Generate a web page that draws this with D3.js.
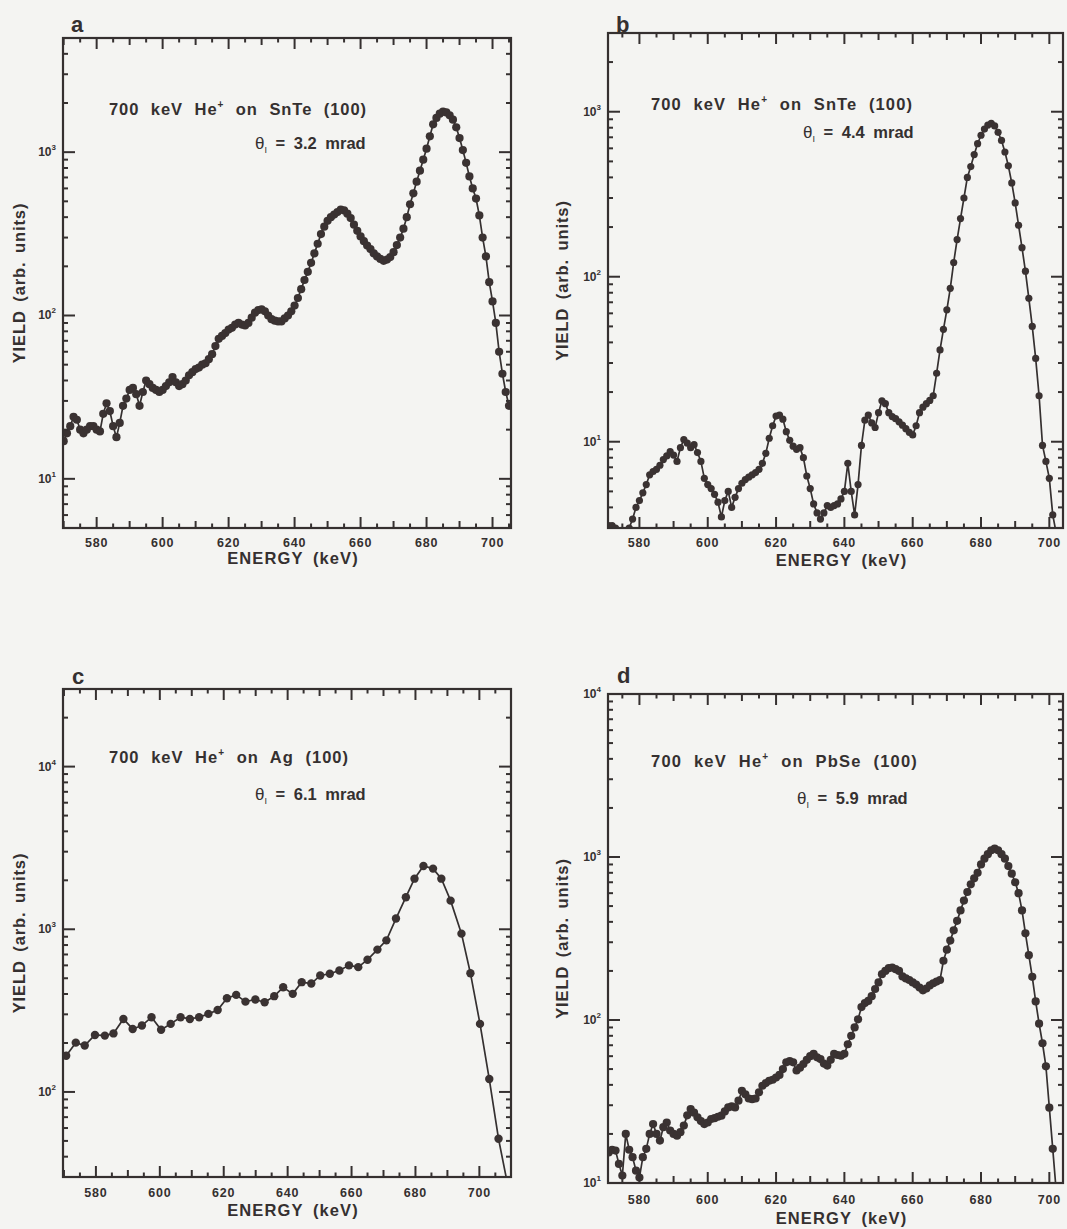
<!DOCTYPE html>
<html><head><meta charset="utf-8">
<script src="https://cdn.jsdelivr.net/npm/d3@7"></script>
<style>
body{margin:0;background:#f4f4f2;}
svg text{font-family:"Liberation Sans",Arial,Helvetica,sans-serif;font-weight:bold;fill:#353030;}
</style></head>
<body><svg id="chart" width="1067" height="1229"></svg>
<script>
// ---------- DATA ----------
const energyA = [570,571,572,573,574,575,576,577,578,579,580,581,582,583,584,585,586,587,588,589,590,591,592,593,594,595,596,597,598,599,600,601,602,603,604,605,606,607,608,609,610,611,612,613,614,615,616,617,618,619,620,621,622,623,624,625,626,627,628,629,630,631,632,633,634,635,636,637,638,639,640,641,642,643,644,645,646,647,648,649,650,651,652,653,654,655,656,657,658,659,660,661,662,663,664,665,666,667,668,669,670,671,672,673,674,675,676,677,678,679,680,681,682,683,684,685,686,687,688,689,690,691,692,693,694,695,696,697,698,699,700,701,702,703,704,705];
const yieldA = [17,19,21,24,23,20,19,20,21,21,20,19.5,25,29,26,21,18,22,28,31,35,36,33,28,34,40,38,36,35,34,35,37,39,42,39,37,38,40,43,45,47,48,50,51,54,58,65,72,75,78,82,84,88,90,88,87,90,97,104,108,109,106,100,95,93,92,92,96,100,106,115,128,145,165,185,210,240,275,315,350,380,400,415,430,445,440,420,395,360,330,305,285,268,255,240,230,222,216,220,228,244,270,300,340,400,480,560,660,770,900,1050,1250,1480,1620,1720,1770,1750,1680,1580,1420,1220,1030,860,710,600,520,410,300,230,160,122,90,60,44,34,28];

const energyB = [571,572,573,574,575,576,577,578,579,580,581,582,583,584,585,586,587,588,589,590,591,592,593,594,595,596,597,598,599,600,601,602,603,604,605,606,607,608,609,610,611,612,613,614,615,616,617,618,619,620,621,622,623,624,625,626,627,628,629,630,631,632,633,634,635,636,637,638,639,640,641,642,643,644,645,646,647,648,649,650,651,652,653,654,655,656,657,658,659,660,661,662,663,664,665,666,667,668,669,670,671,672,673,674,675,676,677,678,679,680,681,682,683,684,685,686,687,688,689,690,691,692,693,694,695,696,697,698,699,700,701,702];
const yieldB = [3.1,3.1,3.0,2.8,2.6,2.7,3.0,3.4,4.0,4.4,4.9,5.5,6.3,6.6,6.8,7.2,7.8,8.2,8.7,8.3,7.6,9.2,10.3,9.8,9.2,9.6,8.6,7.6,6.0,5.5,5.2,4.8,4.3,3.5,4.4,5.0,4.0,4.6,5.2,5.6,5.9,6.1,6.3,6.5,6.8,7.4,8.5,10.5,12.5,14.3,14.5,13.7,11.5,10.2,9.4,9.0,9.2,8.0,6.2,5.2,4.2,3.7,3.4,3.7,4.1,4.0,4.1,4.2,4.5,5.0,7.4,5.0,3.6,5.5,9.5,13.5,14.5,13.0,12.2,15.0,17.7,17.0,15.0,14.2,13.8,13.2,12.6,12.0,11.4,11.0,12.5,15.0,16.2,17.0,17.8,19,26,36,48,63,85,122,168,225,300,400,465,550,640,720,785,830,849,820,750,670,570,470,370,280,205,150,108,74,50,32,19,9.5,7.6,6.0,3.6,2.8];

const energyC = [570.7,573.7,576.5,579.7,582.8,585.5,588.6,591.5,594.4,597.4,600.4,603.4,606.5,609.4,612.3,615.2,618.1,621,623.9,626.8,629.9,632.8,635.8,638.6,641.6,644.4,647.4,650.2,653.2,656.2,659.2,662.1,665,668.1,670.9,673.9,677,679.7,682.5,685.5,688.1,691,694.4,697.2,700.2,703.1,706,709];
const yieldC = [167,201,193,224,222,229,281,244,256,288,241,262,288,281,288,302,319,377,395,359,370,356,388,440,401,473,464,520,533,558,600,585,650,750,855,1164,1575,2047,2449,2360,2047,1500,940,537,262,120,51.5,26];

const energyD = [571,572,573,574,575,576,577,578,579,580,581,582,583,584,585,586,587,588,589,590,591,592,593,594,595,596,597,598,599,600,601,602,603,604,605,606,607,608,609,610,611,612,613,614,615,616,617,618,619,620,621,622,623,624,625,626,627,628,629,630,631,632,633,634,635,636,637,638,639,640,641,642,643,644,645,646,647,648,649,650,651,652,653,654,655,656,657,658,659,660,661,662,663,664,665,666,667,668,669,670,671,672,673,674,675,676,677,678,679,680,681,682,683,684,685,686,687,688,689,690,691,692,693,694,695,696,697,698,699,700,701,702];
const yieldD = [15.4,16,15.8,13.1,11.1,20,16,14.4,11.9,10.8,14.4,16.2,20,23,20,18.2,22,23.5,21,20,19.5,20.5,22.5,26,28.4,27,25.3,24,23,23.5,24.7,25,25.5,25.9,27.5,29.1,29.5,29.1,32,36.8,35,33,32.7,33,36,39.5,41,42.4,43,44.4,46,50,55,56,55,49,51,53.7,57,60,61.9,59,57.6,54,52.5,57,61.9,61,60.4,62,71,80,90,101,120,127,131,140,155,170,191,200,208,210,205,200,185,180,176,170,165,158,152,156,163,168,172,176,231,270,307,355,406,470,540,610,680,740,800,900,977,1040,1100,1125,1100,1040,977,880,790,700,600,470,340,250,184,130,95,72,52,29,16.2,9];

const panelLetters = ["a","b","c","d"];
const targets = ["SnTe","SnTe","Ag","PbSe"];
const thetaValues = ["3.2","4.4","6.1","5.9"];
const xTickLabels = [580,600,620,640,660,680,700];
const xTitle = "ENERGY  (keV)";
const yTitle = "YIELD  (arb.  units)";

// ---------- LAYOUT ----------
const layout = [
 {box:[63,38,511,528], xDom:[569.8,705.6], yDom:[5,5000], r:4.1, E:energyA, Y:yieldA,
  letter:[71,32], title:[109,115,258], theta:[255,149], yT:25, xT:564, tickY:547},
 {box:[608,33,1063,528], xDom:[570.8,704], yDom:[3,3000], r:3.6, E:energyB, Y:yieldB,
  letter:[616,32], title:[651,110,262], theta:[803,138], yT:568, xT:566, tickY:547},
 {box:[63,689,511,1177], xDom:[569.7,709.9], yDom:[30,30000], r:4.2, E:energyC, Y:yieldC,
  letter:[72,684], title:[109,763,240], theta:[255,800], yT:25, xT:1216, tickY:1197},
 {box:[608,694,1063,1183], xDom:[570.8,704], yDom:[10,10000], r:4.1, E:energyD, Y:yieldD,
  letter:[617,683], title:[651,767,267], theta:[797,804], yT:568, xT:1224, tickY:1204}
];

const svg = d3.select("#chart");
const ink = "#353030";

layout.forEach((p,i)=>{
  const [L,T,R,B] = p.box;
  const x = d3.scaleLinear().domain(p.xDom).range([L,R]);
  const y = d3.scaleLog().domain(p.yDom).range([B,T]);
  const g = svg.append("g");
  const cid = "clip"+i;
  svg.append("clipPath").attr("id",cid).append("rect")
     .attr("x",L).attr("y",T).attr("width",R-L).attr("height",B-T);

  const pts = p.E.map((e,k)=>[e,p.Y[k]]);
  const line = d3.line().x(d=>x(d[0])).y(d=>y(d[1]));
  const dg = g.append("g").attr("clip-path",`url(#${cid})`);
  dg.append("path").datum(pts).attr("d",line).attr("fill","none")
    .attr("stroke",ink).attr("stroke-width",1.7);
  dg.selectAll("circle").data(pts).join("circle")
    .attr("cx",d=>x(d[0])).attr("cy",d=>y(d[1])).attr("r",p.r).attr("fill","#3a3232");

  // frame
  g.append("rect").attr("x",L).attr("y",T).attr("width",R-L).attr("height",B-T)
   .attr("fill","none").attr("stroke",ink).attr("stroke-width",2.2);

  // x ticks (inward, top & bottom)
  const xt = d3.range(Math.ceil(p.xDom[0]/5)*5, p.xDom[1], 5);
  xt.forEach(v=>{
    const len = v%20===0 ? 11 : (v%10===0 ? 7 : 4.5);
    const xx = x(v);
    g.append("line").attr("x1",xx).attr("x2",xx).attr("y1",B).attr("y2",B-len).attr("stroke",ink).attr("stroke-width",2);
    g.append("line").attr("x1",xx).attr("x2",xx).attr("y1",T).attr("y2",T+len).attr("stroke",ink).attr("stroke-width",2);
  });
  xTickLabels.filter(v=>v>=p.xDom[0]&&v<=p.xDom[1]).forEach(v=>{
    g.append("text").attr("x",x(v)).attr("y",p.tickY).attr("text-anchor","middle")
     .attr("font-size",12.5).attr("letter-spacing",0.8).text(v);
  });

  // y ticks (log)
  const lo = Math.floor(Math.log10(p.yDom[0])), hi = Math.ceil(Math.log10(p.yDom[1]));
  for(let d=lo; d<=hi; d++){
    for(let m=1; m<=9; m++){
      const v = m*Math.pow(10,d);
      if(v < p.yDom[0]*0.999 || v > p.yDom[1]*1.001) continue;
      const yy = y(v), len = m===1 ? 12 : 5;
      g.append("line").attr("x1",L).attr("x2",L+len).attr("y1",yy).attr("y2",yy).attr("stroke",ink).attr("stroke-width",2);
      g.append("line").attr("x1",R).attr("x2",R-len).attr("y1",yy).attr("y2",yy).attr("stroke",ink).attr("stroke-width",2);
      if(m===1){
        const t = g.append("text").attr("x",L-7).attr("y",yy+4).attr("text-anchor","end").attr("font-size",12);
        t.append("tspan").text("10");
        t.append("tspan").attr("dy",-6).attr("font-size",8).text(String(d));
      }
    }
  }

  // panel letter
  g.append("text").attr("x",p.letter[0]).attr("y",p.letter[1]).attr("font-size",22).text(panelLetters[i]);

  // title
  const tt = g.append("text").attr("x",p.title[0]).attr("y",p.title[1]).attr("font-size",16.5).attr("word-spacing",6);
  tt.append("tspan").text("700 keV He");
  tt.append("tspan").attr("dy",-7).attr("font-size",10).text("+");
  tt.append("tspan").attr("dy",7).text(" on "+targets[i]+" (100)");
  const w0 = tt.node().getComputedTextLength();
  const nChars = ("700 keV He+ on "+targets[i]+" (100)").length;
  tt.attr("letter-spacing", Math.max(0,(p.title[2]-w0)/nChars));

  const th = g.append("text").attr("x",p.theta[0]).attr("y",p.theta[1]).attr("font-size",16.5).attr("word-spacing",4);
  th.append("tspan").attr("font-weight","normal").attr("font-size",17).text("θ");
  th.append("tspan").attr("dy",4).attr("font-size",9).attr("font-weight","normal").text("I");
  th.append("tspan").attr("dy",-4).text("  =  "+thetaValues[i]+"  mrad");

  // axis titles
  g.append("text").attr("transform",`translate(${p.yT},${(T+B)/2}) rotate(-90)`)
   .attr("text-anchor","middle").attr("font-size",16.5).attr("letter-spacing",0.9).attr("word-spacing",3).text(yTitle);
  g.append("text").attr("x",(L+R)/2+6).attr("y",p.xT).attr("text-anchor","middle")
   .attr("font-size",16.5).attr("letter-spacing",1.1).attr("word-spacing",4).text(xTitle);
});
</script></body></html>
